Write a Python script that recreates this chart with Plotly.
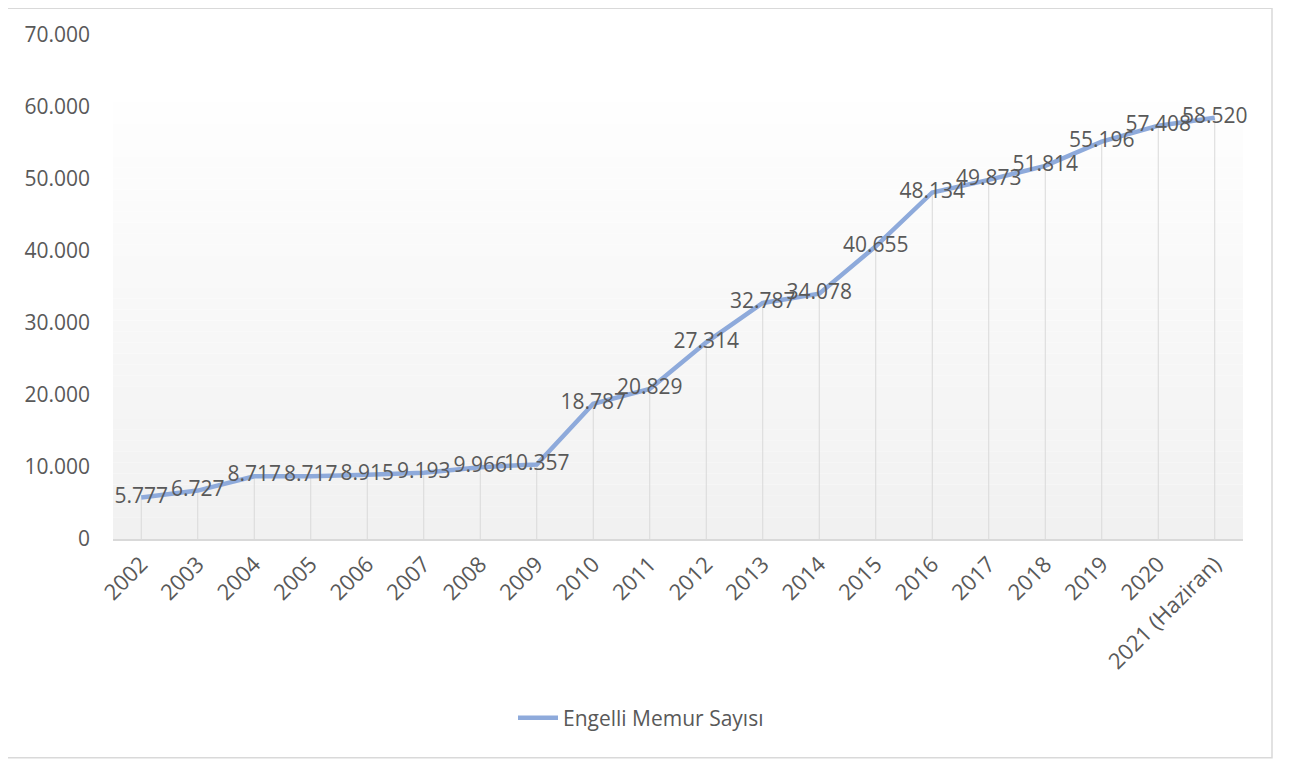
import plotly.graph_objects as go

categories = ["2002", "2003", "2004", "2005", "2006", "2007", "2008", "2009", "2010", "2011",
              "2012", "2013", "2014", "2015", "2016", "2017", "2018", "2019", "2020", "2021 (Haziran)"]
memur = [5777, 6727, 8717, 8717, 8915, 9193, 9966, 10357, 18787, 20829,
         27314, 32787, 34078, 40655, 48134, 49873, 51814, 55196, 57408, 58520]
series_name = "Engelli Memur Sayısı"
y_ticks = [0, 10000, 20000, 30000, 40000, 50000, 60000, 70000]

# page body has an 8px margin: lay out in screen pixels, then shift
OFF = 8
W, H = 1295 - OFF, 762 - OFF
L, T = 113 - OFF, 30 - OFF
R = W - (1243 - OFF)
B = H - (539 - OFF)
pw, ph = W - L - R, H - T - B

LINE = "#8eaadb"
TXT = "#595959"
GRID = "#d9d9d9"
FONT = "Open Sans"

fig = go.Figure()

# drop lines
dx, dy = [], []
for c, v in zip(categories, memur):
    dx += [c, c, None]
    dy += [0, v, None]
fig.add_trace(go.Scatter(x=dx, y=dy, mode="lines", line=dict(color=GRID, width=1),
                         hoverinfo="skip", showlegend=False))

fig.add_trace(go.Scatter(
    x=categories, y=memur, name=series_name, mode="lines+text",
    line=dict(color=LINE, width=4.5),
    text=memur, texttemplate="%{y:,}", textposition="middle center",
    textfont=dict(family=FONT, size=21, color=TXT), cliponaxis=False))

# gradient background (stacked bands)
shapes = []
n = 40
top = (539 - 98) / ph
for i in range(n):
    y0 = top * i / n
    y1 = top * (i + 1) / n
    g = int(round(241 + (254 - 241) * (i / (n - 1))))
    shapes.append(dict(type="rect", xref="paper", yref="paper", x0=0, x1=1, y0=y0, y1=y1,
                       fillcolor=f"rgb({g},{g},{g})", line=dict(width=0), layer="below"))
# chart border (screen px 3..1272 x 3..760)
shapes.append(dict(type="rect", xref="paper", yref="paper",
                   x0=(3 - 113) / pw, x1=(1272 - 113) / pw,
                   y0=-(760 - 539) / ph, y1=1 + (30 - 3) / ph,
                   line=dict(color=GRID, width=1.5), fillcolor="rgba(0,0,0,0)", layer="below"))

fig.update_layout(
    width=W, height=H,
    margin=dict(l=L, r=R, t=T, b=B),
    paper_bgcolor="white", plot_bgcolor="white",
    separators=",.",
    font=dict(family=FONT, size=21, color=TXT),
    shapes=shapes,
    showlegend=True,
    legend=dict(orientation="h", x=(641 - 113) / pw, xanchor="center",
                y=-(720 - 539) / ph, yanchor="middle", itemwidth=40,
                font=dict(family=FONT, size=21, color=TXT), bgcolor="rgba(0,0,0,0)"),
)
fig.update_xaxes(type="category", categoryorder="array", categoryarray=categories,
                 range=[-0.5, len(categories) - 0.5], tickangle=-45,
                 showgrid=False, showline=True, linecolor=GRID, linewidth=1.5,
                 ticks="", tickfont=dict(family=FONT, size=22, color=TXT),
                 ticklabelstandoff=2, zeroline=False)
fig.update_yaxes(range=[0, 70000], tickvals=y_ticks, tickformat=",d",
                 showgrid=False, zeroline=False, showline=False, ticks="",
                 tickfont=dict(family=FONT, size=21, color=TXT), ticklabelstandoff=22)

fig.write_html("out.html")
